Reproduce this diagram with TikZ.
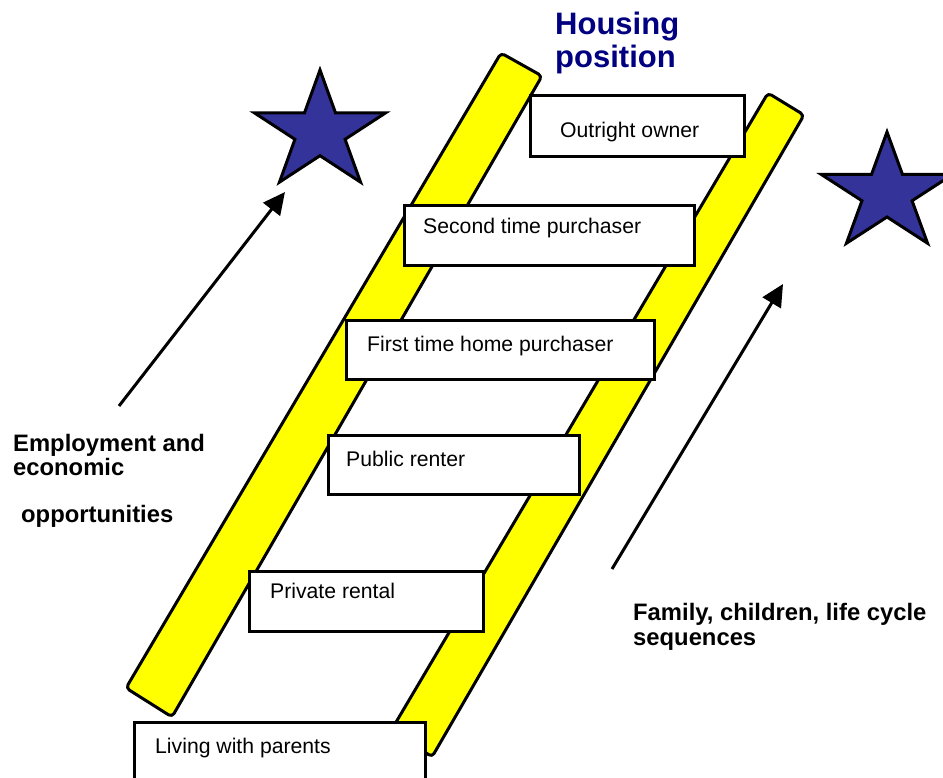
\documentclass[tikz,border=0pt]{standalone}
\usepackage{fontspec}
\setmainfont{Liberation Sans}
\usetikzlibrary{arrows.meta}
\definecolor{railyellow}{HTML}{FFFF00}
\definecolor{starblue}{HTML}{333399}
\definecolor{titlenavy}{HTML}{000080}
\begin{document}
\begin{tikzpicture}[x=1pt,y=-1pt,
  rail/.style={draw=black,fill=railyellow,line width=3pt,rounded corners=4pt,line join=round},
  stepbox/.style={draw=black,fill=white,line width=3pt,anchor=north west,inner sep=0pt},
  boxtext/.style={anchor=base west,inner sep=0pt,font=\fontsize{21.2}{25}\selectfont},
  sidelabel/.style={anchor=base west,inner sep=0pt,font=\fontsize{23.8}{27}\selectfont\bfseries},
  titletext/.style={anchor=base west,inner sep=0pt,text=titlenavy,font=\fontsize{31}{35}\selectfont\bfseries},
  starshape/.style={draw=black,fill=starblue,line width=3pt,line join=miter},
  trend/.style={draw=black,line width=3pt,-{Triangle[length=22pt,width=21pt]}}]
\useasboundingbox (0,0) rectangle (943,778);
\clip (0,0) rectangle (943,778);

% ladder rails
\draw[rail] (501,53) -- (542,76) -- (172,717) -- (126,688) -- cycle;
\draw[rail] (768,93) -- (804,115) -- (432,757) -- (392,729) -- cycle;

% rungs: housing positions, bottom to top
\node (parents) [stepbox,minimum width=291pt,minimum height=80pt] at (133,721) {};
\node (parents-t) [boxtext] at (155,753) {Living with parents};
\node (private) [stepbox,minimum width=234pt,minimum height=60pt] at (248,570) {};
\node (private-t) [boxtext] at (270,598) {Private rental};
\node (public) [stepbox,minimum width=251pt,minimum height=59pt] at (327,434) {};
\node (public-t) [boxtext] at (346,466) {Public renter};
\node (first) [stepbox,minimum width=308pt,minimum height=59pt] at (345,319) {};
\node (first-t) [boxtext] at (367,351) {First time home purchaser};
\node (second) [stepbox,minimum width=290pt,minimum height=60pt] at (403,204) {};
\node (second-t) [boxtext] at (423,234) {Second time purchaser};
\node (owner) [stepbox,minimum width=214pt,minimum height=61pt] at (529,94) {};
\node (owner-t) [boxtext] at (560,138) {Outright owner};

% title
\node (title1) [titletext] at (555,35) {Housing};
\node (title2) [titletext] at (555,68) {position};

% stars
\begin{scope}[shift={(320pt,-132pt)},x=69pt,y=62pt]
  \draw[starshape] (90:1) -- (126:.382) -- (162:1) -- (198:.382) -- (234:1) -- (270:.382)
    -- (306:1) -- (342:.382) -- (18:1) -- (54:.382) -- cycle;
\end{scope}
\begin{scope}[shift={(887pt,-193.5pt)},x=69pt,y=61.5pt]
  \draw[starshape] (90:1) -- (126:.382) -- (162:1) -- (198:.382) -- (234:1) -- (270:.382)
    -- (306:1) -- (342:.382) -- (18:1) -- (54:.382) -- cycle;
\end{scope}

% driving forces
\coordinate (empStart) at (119,406);
\coordinate (empTip) at (285,192);
\draw[trend] (empStart) -- (empTip);
\coordinate (famStart) at (612,569);
\coordinate (famTip) at (783,284);
\draw[trend] (famStart) -- (famTip);

\node (emp1) [sidelabel] at (13,451) {Employment and};
\node (emp2) [sidelabel] at (13,475) {economic};
\node (emp3) [sidelabel] at (21,522) {opportunities};
\node (fam1) [sidelabel] at (633,620) {Family, children, life cycle};
\node (fam2) [sidelabel] at (633,645) {sequences};
\end{tikzpicture}
\end{document}
